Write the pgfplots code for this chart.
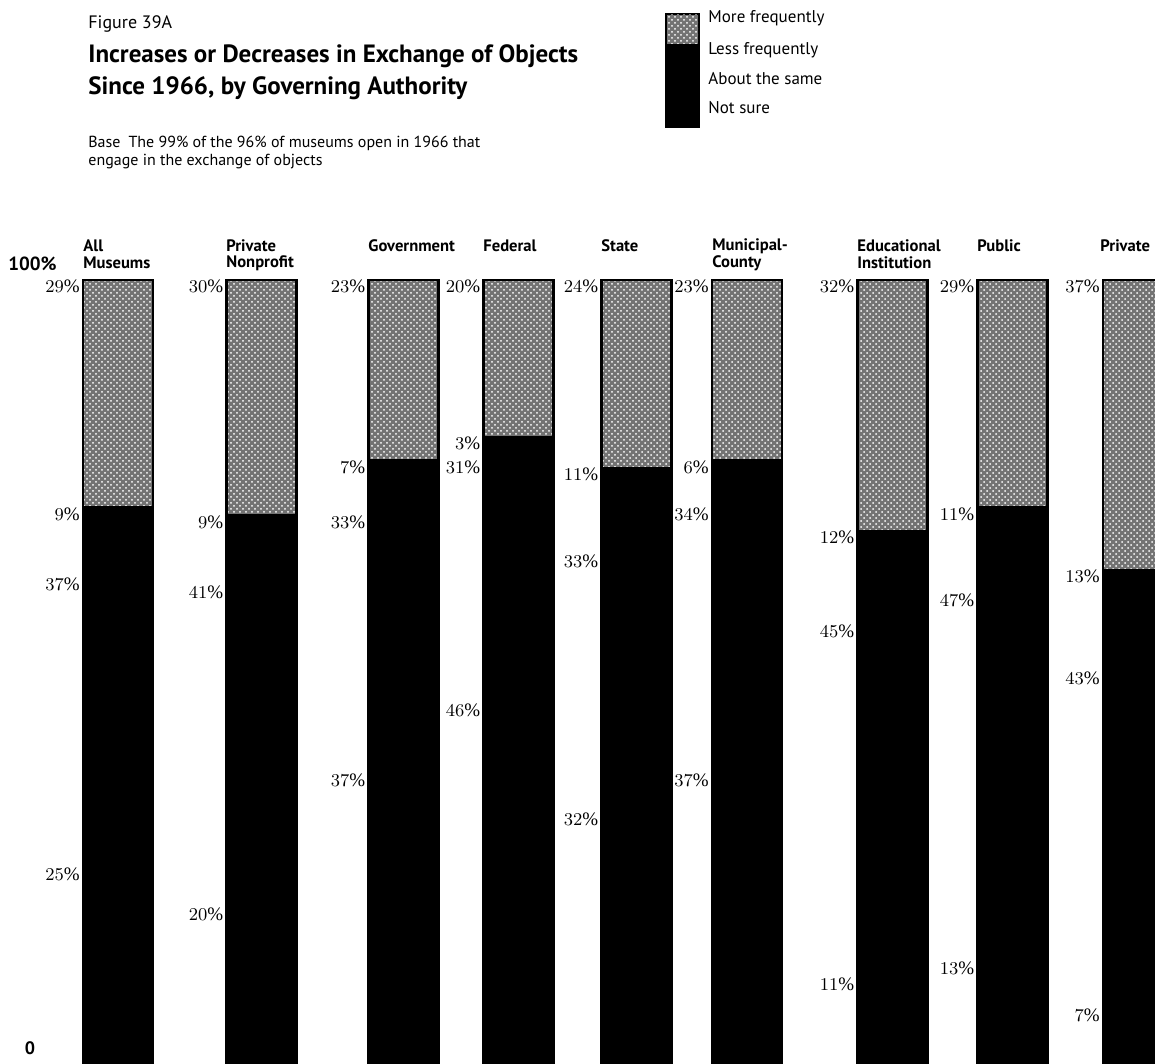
\documentclass[border=0pt]{standalone}
\usepackage{pgfplots}
\pgfplotsset{compat=1.18}
\usepackage{fontspec}
\setmainfont{PT Sans}
\newfontfamily\pct{Liberation Serif}
\usetikzlibrary{patterns}

% stipple look for the "more frequently" segment
\tikzset{stipple/.style={fill=black!55, postaction={pattern=crosshatch dots, pattern color=white}}}

\begin{document}
\begin{tikzpicture}
\useasboundingbox (0,0) rectangle (577.5pt,532pt);
\begin{axis}[
    at={(0,0)}, anchor=south west,
    x=0.5pt, y=3.92pt,
    xmin=0, xmax=1155, ymin=0, ymax=100,
    hide axis,
    ybar stacked,
    bar width=35pt,
    point meta=rawy,
    visualization depends on=rawy\as\rawy,
    nodes near coords={\pct\fontsize{9.5}{10}\selectfont\pgfmathprintnumber{\pgfplotspointmeta}\%},
    % labels sit at the top of each segment, left of the bar
    every node near coord/.append style={anchor=north east, xshift=-18pt, yshift=\rawy*1.96pt+1pt, inner sep=0.5pt, text=black},
  ]
% Not sure
\addplot[fill=black, draw=black, line width=1.2pt] coordinates {
  (118,25) (261.5,20) (403.5,37) (518.5,46) (636.5,32) (747,37) (892.5,11) (1012.5,13) (1138,7)};
% About the same
\addplot[fill=black, draw=black, line width=1.2pt] coordinates {
  (118,37) (261.5,41) (403.5,33) (518.5,31) (636.5,33) (747,34) (892.5,45) (1012.5,47) (1138,43)};
% Less frequently
\addplot[fill=black, draw=black, line width=1.2pt] coordinates {
  (118,9) (261.5,9) (403.5,7) (518.5,3) (636.5,11) (747,6) (892.5,12) (1012.5,11) (1138,13)};
% More frequently
\addplot[stipple, draw=black, line width=1.2pt] coordinates {
  (118,29) (261.5,30) (403.5,23) (518.5,20) (636.5,24) (747,23) (892.5,32) (1012.5,29) (1138,37)};
\end{axis}

\begin{scope}[x=0.5pt, y=-0.5pt, shift={(0,532pt)}]
  % titles
  \node[anchor=west, inner sep=0] at (88,24) {\fontsize{9}{10}\selectfont Figure 39A};
  \node[anchor=west, inner sep=0] at (88,56) {\fontsize{12.5}{14}\selectfont\bfseries Increases or Decreases in Exchange of Objects};
  \node[anchor=west, inner sep=0] at (88,88) {\fontsize{12.5}{14}\selectfont\bfseries Since 1966, by Governing Authority};
  \node[anchor=west, inner sep=0] at (88,143) {\fontsize{8}{9}\selectfont Base\enspace The 99\% of the 96\% of museums open in 1966 that};
  \node[anchor=west, inner sep=0] at (88,162) {\fontsize{8}{9}\selectfont engage in the exchange of objects};
  % legend
  \fill[black] (665,13) rectangle (700,128);
  \path[stipple] (667,15) rectangle (698,44);
  \foreach \t/\yy in {More frequently/18, Less frequently/50, About the same/79, Not sure/108}
    \node[anchor=west, inner sep=0] at (708,\yy) {\fontsize{8.5}{9}\selectfont \t};
  % axis ends
  \node[anchor=west, inner sep=0] at (8,264) {\fontsize{9.5}{11}\selectfont\bfseries 100\%};
  \node[inner sep=0] at (30,1048) {\fontsize{9}{10}\selectfont\bfseries 0};
  % column headers
  \foreach \xx/\a/\b in {83/All/Museums, 226/Private/Nonprofit, 712/Municipal-/County, 857/Educational/Institution}{
    \node[anchor=west, inner sep=0] at (\xx,246) {\fontsize{8.3}{9}\selectfont\bfseries \a};
    \node[anchor=west, inner sep=0] at (\xx,263) {\fontsize{8.3}{9}\selectfont\bfseries \b};
  }
  \foreach \xx/\a in {368/Government, 483/Federal, 601/State, 977/Public, 1100/Private}
    \node[anchor=west, inner sep=0] at (\xx,246) {\fontsize{8.3}{9}\selectfont\bfseries \a};
\end{scope}
\end{tikzpicture}
\end{document}
